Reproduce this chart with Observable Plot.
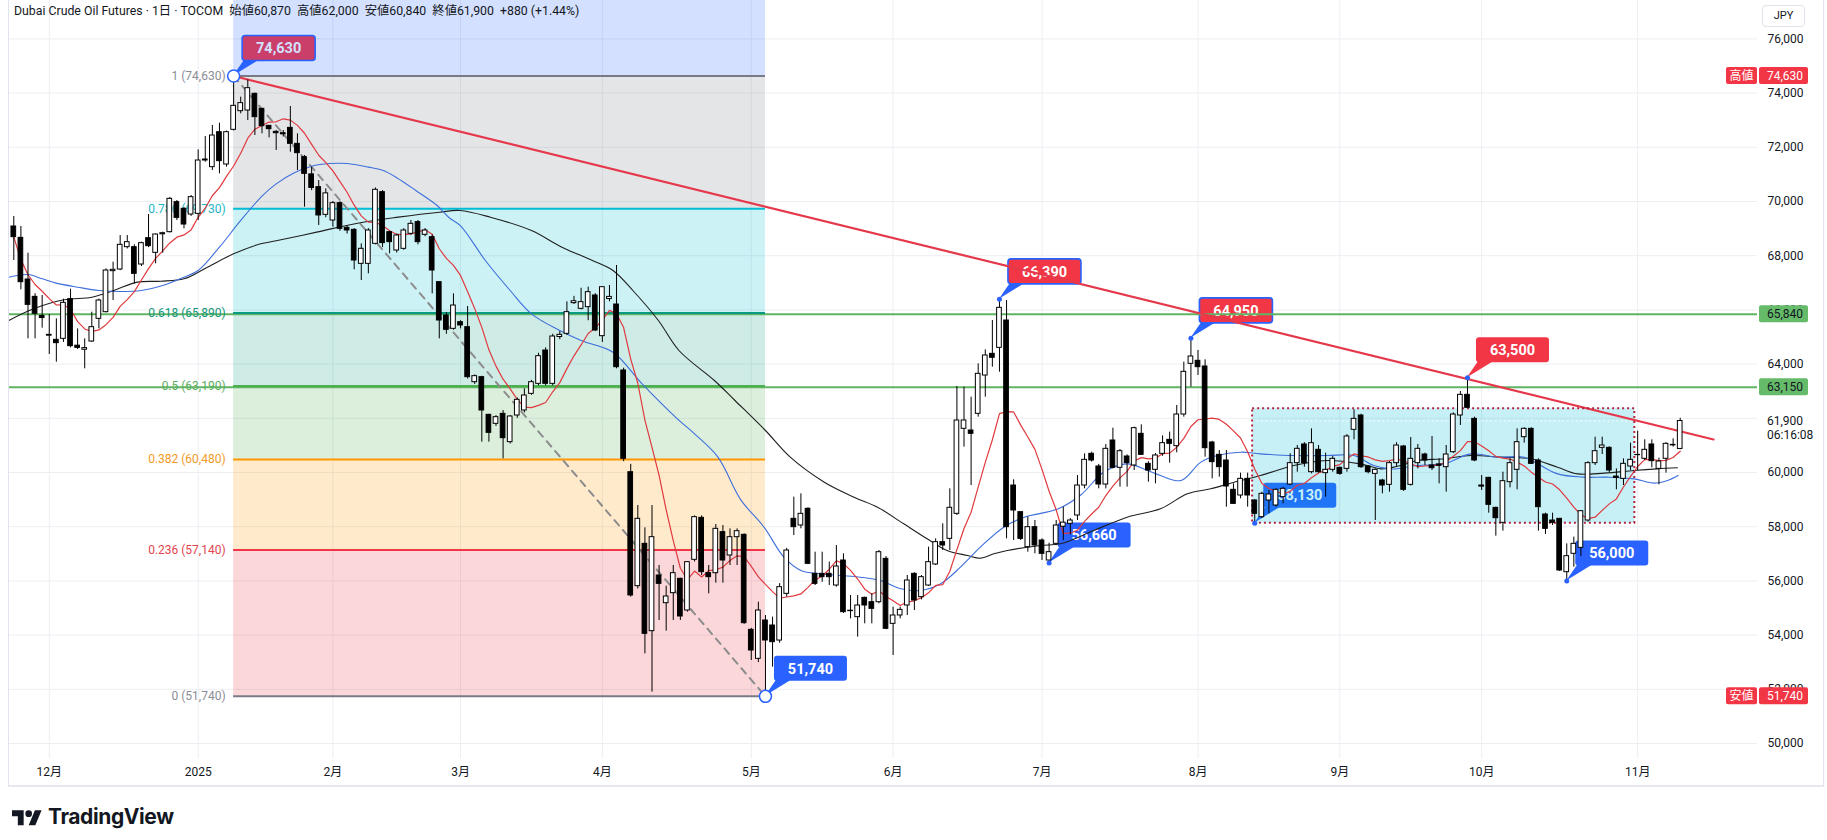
<!DOCTYPE html>
<html><head><meta charset="utf-8">
<script src="https://cdn.jsdelivr.net/npm/d3@7"></script>
<script src="https://cdn.jsdelivr.net/npm/@observablehq/plot@0.6"></script>
<style>
html,body{margin:0;padding:0;background:#fff;}
body{width:1827px;height:840px;overflow:hidden;position:relative;font-family:Roboto,"Noto Sans CJK JP",sans-serif;color:#131722;}
#chart{position:absolute;left:0;top:0;}
#frame{position:absolute;left:8px;top:-1px;width:1816px;height:788px;border:1px solid #e0e3eb;border-bottom:2px solid #e6e8ee;box-sizing:border-box;pointer-events:none;}
#hdr{position:absolute;left:14px;top:4px;font-size:12.3px;line-height:15px;color:#131722;white-space:pre;}
#jpy{position:absolute;left:1762px;top:5px;width:43px;height:22px;border:1px solid #e0e3eb;border-radius:4px;font-size:11px;line-height:20px;text-align:center;color:#131722;background:#fff;box-sizing:border-box}
#logo{position:absolute;left:12px;top:804px;display:flex;align-items:center;gap:6px;font-weight:700;font-size:21px;letter-spacing:-0.4px;color:#131722;font-family:Inter,Roboto,sans-serif}
</style></head><body>
<div id="chart"></div>
<div id="frame"></div>
<div id="hdr"></div>
<div id="jpy">JPY</div>
<div id="logo"><svg width="30" height="20" viewBox="0 0 36 24"><path d="M14 22H7V11H0V4h14v18zM28 22h-8l7.5-18h8L28 22z" fill="#131722"/><circle cx="20" cy="8" r="4" fill="#131722"/></svg><span>TradingView</span></div>
<script>
// ---------------- DATA ----------------
const title = "Dubai Crude Oil Futures · 1日 · TOCOM";
const opens = [
69078,68659,67122,66482,65780,65080,64896,64932,66396,64680,
64530,64834,65670,65916,67430,67491,68315,68315,67675,68647,
68106,68790,68868,69976,69730,69520,69545,71513,71267,72558,
71365,72645,73333,73358,73973,73420,72792,72570,72520,72718,
72128,71636,71000,70529,69508,69299,69939,69028,68955,67700,
67700,68438,70345,68869,68192,68254,68807,69238,68770,68684,
67024,65794,65302,65548,65363,63333,63518,62128,61796,62165,
61120,62104,62288,62903,63272,64502,63272,65000,65117,66250,
66040,66101,66532,65031,66400,66199,63764,60012,55806,57368,
54146,56200,55178,55548,56077,54908,56778,58327,56285,56285,
57799,56938,57614,57700,54195,53125,54539,54355,53800,55523,
58291,58045,58660,56261,56261,56261,55830,56753,54900,54662,
55375,55215,55215,56815,54416,54724,55093,56261,55400,55830,
56606,57430,57552,58475,61612,61550,62165,63579,64379,64600,
65609,59520,58537,57245,57983,57491,56753,57368,58000,58106,
58414,59520,60689,60222,59557,61181,60173,60591,60259,61427,
60320,60099,60689,61206,60972,62140,64010,64121,63912,61107,
60652,60443,59361,59152,59766,58967,58352,58967,58782,59090,
59557,60345,61034,60012,60837,59976,60099,60173,60135,61575,
62103,60222,59950,59705,59545,60345,60960,59545,60345,60664,
60260,60300,60197,60750,62103,62866,61980,59520,59803,58696,
58143,59643,60099,61304,61611,60443,58450,58229,58291,56322,
57000,57220,58229,60345,60910,60910,59850,59766,60222,60650,
60505,61034,60135,60505,61000,60870];
const highs = [
69447,69078,68094,66600,66531,65830,65670,66396,66765,65301,
64932,65916,66400,67515,67762,68745,68745,68400,68500,69520,
68800,68868,70150,70037,69780,70222,71907,72399,72804,72890,
72600,74630,73850,74490,74000,73420,72800,72620,72620,73505,
72497,71698,71267,70775,70468,70000,69990,69100,69000,68438,
69000,70500,70400,68900,68800,69000,69300,69300,69000,68770,
67024,65900,66593,65600,66126,63600,63550,62150,62100,62288,
62100,62750,63088,63400,64400,64600,65100,65200,66300,66500,
66800,66840,66600,66839,66900,67639,63850,60300,58782,57958,
58782,56569,55806,56569,56100,56700,58400,58400,56569,58082,
58045,57921,57921,57737,54250,55215,54723,54662,55900,57200,
59090,59213,58700,57060,57060,56692,57306,56999,55462,55462,
55400,55523,57122,56900,55031,55031,56200,56300,56200,57245,
57552,58106,59398,63174,63149,62780,64010,64527,65609,66390,
66347,59730,58537,58352,58229,57553,57393,58229,58721,58300,
59889,60689,60751,60300,61034,61636,60850,60650,61673,61759,
60400,60700,61353,61489,62472,64071,64950,64502,64158,61150,
60812,60812,59582,59976,59976,59000,59275,59336,59398,59450,
60689,60996,61100,61611,60996,60714,60591,60200,61400,62312,
62150,60250,60135,59750,60400,61100,61000,61290,61034,60714,
61329,60505,60996,62200,62989,63500,62042,59889,59820,58720,
60012,60505,61611,61650,61648,60505,58500,58500,58300,57368,
57614,58598,60400,61304,61304,60950,60135,60505,61083,61525,
61206,61206,60530,61100,61243,62000];
const lows = [
67823,66741,64932,64932,65326,64355,64072,64800,64600,64539,
63825,64800,65301,65890,66347,67450,68250,66962,67600,68300,
67700,68094,68840,69299,68991,69450,69299,71450,71144,71021,
71267,72600,73235,72989,72435,72497,72349,71882,72380,71820,
71144,69791,70400,69115,69400,69053,68900,68800,67479,67085,
67331,68400,68300,68069,68100,68200,68750,68400,68700,66593,
64933,65100,65250,65300,63450,63250,61120,61120,61700,60505,
61050,62000,62200,62850,63200,63200,63200,64900,65056,66200,
66000,65600,65200,64800,66300,63826,60400,55400,55700,53309,
51894,54539,54146,54539,54539,54850,56700,56200,55523,55917,
55917,56569,56569,54400,53063,52986,51740,52817,53700,55400,
57675,57922,56600,55830,55950,55830,55769,54800,54600,53924,
54416,54416,55154,54200,53247,54600,54724,54908,55300,55800,
56569,57122,57122,58414,60935,59520,62042,62780,63887,63702,
57553,57491,57491,57061,56999,56753,56660,57306,57491,57700,
58229,59398,60382,59398,59398,60135,59459,59459,60074,60627,
59643,59582,60600,60345,60726,62042,63149,63580,60566,59766,
59827,58721,58819,59029,58721,58130,58300,58475,58721,58844,
59520,60012,60197,59950,59976,59090,60012,59900,60012,61206,
60150,59950,58229,59213,59275,60200,59300,59500,60135,60259,
60074,59582,59275,60700,61735,62350,60400,59336,58500,57651,
57836,59434,59361,61083,60300,57836,57713,58044,56350,56000,
56507,56900,58167,60259,60664,60000,59361,59520,60074,60074,
60443,60173,59545,59976,60935,60840];
const closes = [
68684,67023,66187,65855,65700,65050,64773,66261,64662,64600,
64590,65363,66347,67454,67480,68401,68500,67331,68463,68352,
68782,68830,70098,69397,69151,70160,71513,71550,72435,71488,
72558,73530,73630,74182,73112,72780,72669,72520,72480,72128,
71784,71021,70500,69484,70300,69939,68992,68930,67823,68254,
68930,70431,68463,68500,68746,68930,69176,68500,68930,67454,
65609,65265,66162,65425,63518,63555,62288,61464,62042,61267,
62067,62682,62842,63333,64293,63272,65019,65080,65917,66320,
66286,66655,65240,66839,66480,63887,60505,55462,58291,54047,
57614,55892,55425,56285,54687,56692,58352,56323,56138,57921,
56753,57614,57835,54441,53432,54908,53801,53740,55769,57122,
57983,58475,56630,55892,56138,56138,56532,54847,54884,55093,
55093,54970,57060,54232,54724,54932,56015,55277,56138,56692,
57430,57306,58697,61919,61919,61427,63641,64318,64232,66077,
57983,58598,57552,57983,57306,56999,57061,58045,58150,58229,
59520,60468,60443,59557,60874,60173,60787,60345,61636,60652,
60074,60628,61083,61058,62140,63715,64281,63887,60898,60382,
60197,59484,58844,59766,59152,58475,59213,59189,59361,59398,
60345,60874,60345,61083,60012,60099,60505,59950,61329,61980,
60197,60012,60099,59520,60345,60996,59361,60505,60874,60443,
60160,60250,60664,62140,62866,62386,60443,59480,58807,58315,
59680,60345,61119,61611,60320,58721,57922,58143,56384,56913,
57368,58573,60345,60787,60996,60074,59800,60320,60468,60640,
60837,60419,60406,61058,61020,61900];

// month ticks (bar index of first trading day) and labels
const monthIdx = [5, 26, 45, 63, 83, 104, 124, 145, 167, 187, 207, 229];
const monthLabels = ["12月","2025","2月","3月","4月","5月","6月","7月","8月","9月","10月","11月"];
const yTicks = [50000,52000,54000,56000,58000,60000,62000,64000,66000,68000,70000,72000,74000,76000];

// moving averages (bar index, value)
const ma25 = [[-0.7,67208],[2,67306],[4,67147],[6,66987],[9,66839],[12,66716],[15,66679],[18,66716],[21,66900],[24,67208],[26,67454],[29,68315],[32,69300],[35,70200],[37,70650],[39.5,71050],[42,71300],[44.5,71400],[47,71400],[50,71270],[52,71150],[54,70880],[56.7,70406],[59.7,69852],[61.4,69400],[63,69100],[66.5,67823],[70,66716],[73,65855],[77,65240],[80,64871],[84.5,64440],[88.5,63300],[93.5,62000],[96,61427],[99.3,60566],[102.5,59000],[105.8,57983],[108.6,56876],[111,56384],[113.8,56261],[116.6,56200],[119.4,56138],[122.2,56015],[125.1,55708],[127.9,55646],[130.7,55892],[133.5,56507],[136.3,57245],[139.6,57983],[142.5,58352],[147.2,58650],[150.5,59180],[153.7,60012],[157,60320],[159.9,60074],[161.7,59889],[164.6,59705],[167.4,60382],[169.7,60627],[173,60750],[175.8,60689],[180.5,60627],[185.2,60627],[189,60627],[191.8,60259],[194.4,60130],[197.9,60259],[201.7,60320],[205.5,60689],[209.2,60566],[213,60566],[214.9,60320],[217.7,59950],[221.4,59828],[224.7,59828],[228.5,59766],[231.3,59607],[233.2,59705],[234.7,59889]];
const ma75 = [[-0.7,65609],[2.8,66040],[7.1,66372],[11,66470],[14.1,66716],[17.4,67024],[20.7,67060],[24,67147],[27.3,67577],[31,68069],[34.8,68438],[37,68550],[42.7,68869],[48.5,69200],[54.2,69422],[60,69606],[62.9,69668],[67.2,69422],[73,68930],[77.3,68315],[81.6,67823],[84.5,67454],[87.3,66716],[90.9,65609],[93.8,64502],[98.8,63395],[101.7,62657],[106,61550],[109.5,60566],[114.3,59643],[118.5,59090],[121.8,58721],[125.5,58106],[128.8,57553],[131.6,57122],[134.5,56938],[136.3,56839],[138.2,56999],[140.1,57122],[144.8,57306],[147.6,57368],[152.3,57860],[157,58352],[161.7,58660],[165.5,59213],[168.8,59398],[172.1,59643],[175.8,59889],[180.5,60259],[185.2,60443],[189.9,60320],[192.8,60135],[195.6,60259],[197.9,60443],[201.7,60505],[205.5,60627],[209.7,60566],[213.9,60505],[217.7,60197],[220.5,59950],[224.3,59976],[228.5,60074],[231.8,60135],[234.6,60173]];

// Fibonacci retracement drawing
const fibIdx = [31, 106];
const fibRatios = [1.618, 1, 0.786, 0.618, 0.5, 0.382, 0.236, 0];
const fibValues = [88776, 74630, 69730, 65890, 63190, 60480, 57140, 51740];
// horizontal support/resistance lines
const hLines = [65840, 63150];
// trend line drawing (bar index, price)
const trendIdx = [31, 239.7];
const trendVal = [74630, 61218];
// range box drawing
const boxIdx = [174.7, 228.6];
const boxVal = [58130, 62350];
// price callouts
const calloutIdx = [31, 139, 166, 205, 106, 146, 175, 219];
const calloutVal = [74630, 66390, 64950, 63500, 51740, 56660, 58130, 56000];
const calloutKind = ["high","high","high","high2","low","low","low","low"];
// right price-scale labels
const scaleLabelVal = [74630, 65840, 63150, 51740];
const scaleLabelTag = ["高値", "", "", "安値"];
const countdown = "06:16:08";

// ---------------- STYLES ----------------
const fibColors = ["#2962ff", "#787b86", "#00bcd4", "#089981", "#4caf50", "#ff9800", "#f23645", "#787b86"];
const fibTextColors = ["#2962ff", "#8a8d96", "#22b5c8", "#13957b", "#5cae60", "#f29b25", "#e2464f", "#8a8d96"];
const calloutStyle = {
  high: {fill: "#f23645", border: "#2962ff", ptr: "#2962ff"},
  high2: {fill: "#f23645", border: null, ptr: "#f23645"},
  low: {fill: "#2962ff", border: null, ptr: "#2962ff"}
};
const fmt = d3.format(",");

// ---------------- BUILD ----------------
const candles = closes.map((c, i) => ({i, o: opens[i], h: highs[i], l: lows[i], c}));
const last = candles[candles.length - 1];
const prevClose = closes[closes.length - 2];
const chg = last.c - prevClose;
document.getElementById("hdr").textContent =
  `${title}  始値${fmt(last.o)}  高値${fmt(last.h)}  安値${fmt(last.l)}  終値${fmt(last.c)}  ${chg >= 0 ? "+" : ""}${fmt(chg)} (${chg >= 0 ? "+" : ""}${(chg / prevClose * 100).toFixed(2)}%)`;

const fibBands = fibValues.slice(0, -1).map((v, k) => ({hi: v, lo: fibValues[k + 1], color: fibColors[k]}));
const fibLines = fibValues.slice(1).map((v, k) => ({r: fibRatios[k + 1], v, color: fibColors[k + 1], tcolor: fibTextColors[k + 1]}));
const diag = [{i: fibIdx[0], v: fibValues[1]}, {i: fibIdx[1], v: fibValues[fibValues.length - 1]}];
const trend = trendIdx.map((i, k) => ({i, v: trendVal[k]}));
const callouts = calloutIdx.map((i, k) => ({i, v: calloutVal[k], kind: calloutKind[k]}));
const ma25d = ma25.map(([i, v]) => ({i, v}));
const ma75d = ma75.map(([i, v]) => ({i, v}));
const monthMap = new Map(monthIdx.map((d, k) => [d, monthLabels[k]]));

const calloutMark = (index, scales) => {
  const g = d3.create("svg:g").attr("text-anchor", "middle");
  const w = 73, h = 25;
  for (const d of callouts) {
    const s = calloutStyle[d.kind];
    const ax = scales.x(d.i), ay = scales.y(d.v);
    const bx = ax + 9, by = ay - 15 - h;
    g.append("path").attr("d", `M${ax},${ay}L${bx + 2},${by + h - 1}L${bx + 17},${by + h - 1}Z`).attr("fill", s.ptr);
    g.append("rect").attr("x", bx).attr("y", by).attr("width", w).attr("height", h).attr("rx", 3)
      .attr("fill", s.fill).attr("stroke", s.border || "none").attr("stroke-width", 1.6);
    g.append("text").attr("x", bx + w / 2).attr("y", by + h / 2).attr("dy", "0.36em")
      .attr("fill", "#fff").attr("font-weight", 700).attr("font-size", 14.5).text(fmt(d.v));
  }
  return g.node();
};

const scaleLabelMark = (index, scales, values, dims) => {
  const g = d3.create("svg:g").attr("font-size", 12).attr("text-anchor", "start");
  const x0 = dims.width - dims.marginRight;
  const yl = scales.y(last.c);
  g.append("rect").attr("x", x0 + 2).attr("y", yl - 9).attr("width", 56).attr("height", 32).attr("fill", "#fff");
  g.append("text").attr("x", x0 + 10).attr("y", yl).attr("dy", "0.35em").attr("fill", "#131722").text(fmt(last.c));
  g.append("text").attr("x", x0 + 10).attr("y", yl + 14).attr("dy", "0.35em").attr("fill", "#131722").text(countdown);
  scaleLabelVal.forEach((v, k) => {
    const y = scales.y(v);
    const tag = scaleLabelTag[k];
    const fill = tag ? "#f23645" : "#66bb6a";
    const color = tag ? "#fff" : "#131722";
    g.append("rect").attr("x", x0 + 2).attr("y", y - 8.5).attr("width", 49).attr("height", 17).attr("rx", 2).attr("fill", fill);
    g.append("text").attr("x", x0 + 10).attr("y", y).attr("dy", "0.35em").attr("fill", color).text(fmt(v));
    if (tag) {
      g.append("rect").attr("x", x0 - 31).attr("y", y - 8.5).attr("width", 31).attr("height", 17).attr("rx", 2).attr("fill", fill);
      g.append("text").attr("x", x0 - 15.5).attr("y", y).attr("dy", "0.35em").attr("text-anchor", "middle").attr("fill", color).text(tag);
    }
  });
  return g.node();
};

const chart = Plot.plot({
  width: 1827, height: 790,
  marginTop: 0, marginRight: 70, marginBottom: 32, marginLeft: 8,
  x: {domain: [-0.748, 245.9], label: null},
  y: {domain: [49447, 77417], label: null},
  color: {type: "identity"},
  style: {fontFamily: 'Roboto, "Noto Sans CJK JP", sans-serif', fontSize: "12px", color: "#131722", background: "transparent", overflow: "visible"},
  marks: [
    Plot.gridY(yTicks, {stroke: "#eceef2", strokeOpacity: 1}),
    Plot.gridX(monthIdx, {stroke: "#eceef2", strokeOpacity: 1}),
    Plot.axisY(yTicks, {anchor: "right", label: null, tickSize: 0, tickPadding: 10, tickFormat: fmt, fontSize: 12, fill: "#131722"}),
    Plot.axisX(monthIdx, {anchor: "bottom", label: null, tickSize: 0, tickPadding: 9, tickFormat: d => monthMap.get(d), fontSize: 12, fill: "#131722"}),
    calloutMark,
    Plot.rect(fibBands, {x1: () => fibIdx[0], x2: () => fibIdx[1], y1: "lo", y2: "hi", fill: "color", fillOpacity: 0.2, clip: true}),
    Plot.rect([0], {x1: () => boxIdx[0], x2: () => boxIdx[1], y1: () => boxVal[0], y2: () => boxVal[1], fill: "#00bcd4", fillOpacity: 0.22}),
    Plot.ruleY([last.c], {x1: () => boxIdx[0], x2: () => boxIdx[1], stroke: "#ffffff", strokeWidth: 1, strokeDasharray: "1.5,3"}),
    Plot.ruleY(hLines, {stroke: "#5fb463", strokeWidth: 2}),
    Plot.ruleY(fibLines, {y: "v", x1: () => fibIdx[0], x2: () => fibIdx[1], stroke: "color", strokeWidth: 2}),
    Plot.text(fibLines, {x: () => fibIdx[0], y: "v", text: d => `${d.r} (${fmt(d.v)})`, textAnchor: "end", dx: -8, fill: "tcolor", fontSize: 12}),
    Plot.line(diag, {x: "i", y: "v", stroke: "#8c8c8c", strokeWidth: 2, strokeDasharray: "7,6"}),
    Plot.line(trend, {x: "i", y: "v", stroke: "#e5394b", strokeWidth: 2.2}),
    Plot.line(ma75d, {x: "i", y: "v", stroke: "#1f1f1f", strokeWidth: 1.1, curve: "catmull-rom"}),
    Plot.line(ma25d, {x: "i", y: "v", stroke: "#3d6fdc", strokeWidth: 1.1, curve: "catmull-rom"}),
    Plot.lineY(candles, Plot.windowY({k: 9, anchor: "end", reduce: "mean", strict: false}, {x: "i", y: "c", stroke: "#e0393e", strokeWidth: 1.2})),
    Plot.rect([0], {x1: () => boxIdx[0], x2: () => boxIdx[1], y1: () => boxVal[0], y2: () => boxVal[1], fill: "none", stroke: "#b5243f", strokeWidth: 2, strokeDasharray: "2,3"}),
    Plot.ruleX(candles, {x: "i", y1: "l", y2: "h", stroke: "#000", strokeWidth: 1}),
    Plot.rect(candles, {x1: d => d.i - 0.33, x2: d => d.i + 0.33, y1: "o", y2: "c", fill: d => d.c >= d.o ? "#ffffff" : "#000000", stroke: "#000", strokeWidth: 1}),
    Plot.dot(diag, {x: "i", y: "v", r: 6, fill: "#fff", stroke: "#2962ff", strokeWidth: 1.5}),
    Plot.dot(callouts.filter(d => d.i !== fibIdx[0] && d.i !== fibIdx[1]), {x: "i", y: "v", r: 2.5, fill: "#2962ff"}),
    scaleLabelMark
  ]
});
document.getElementById("chart").appendChild(chart);
</script>
</body></html>
